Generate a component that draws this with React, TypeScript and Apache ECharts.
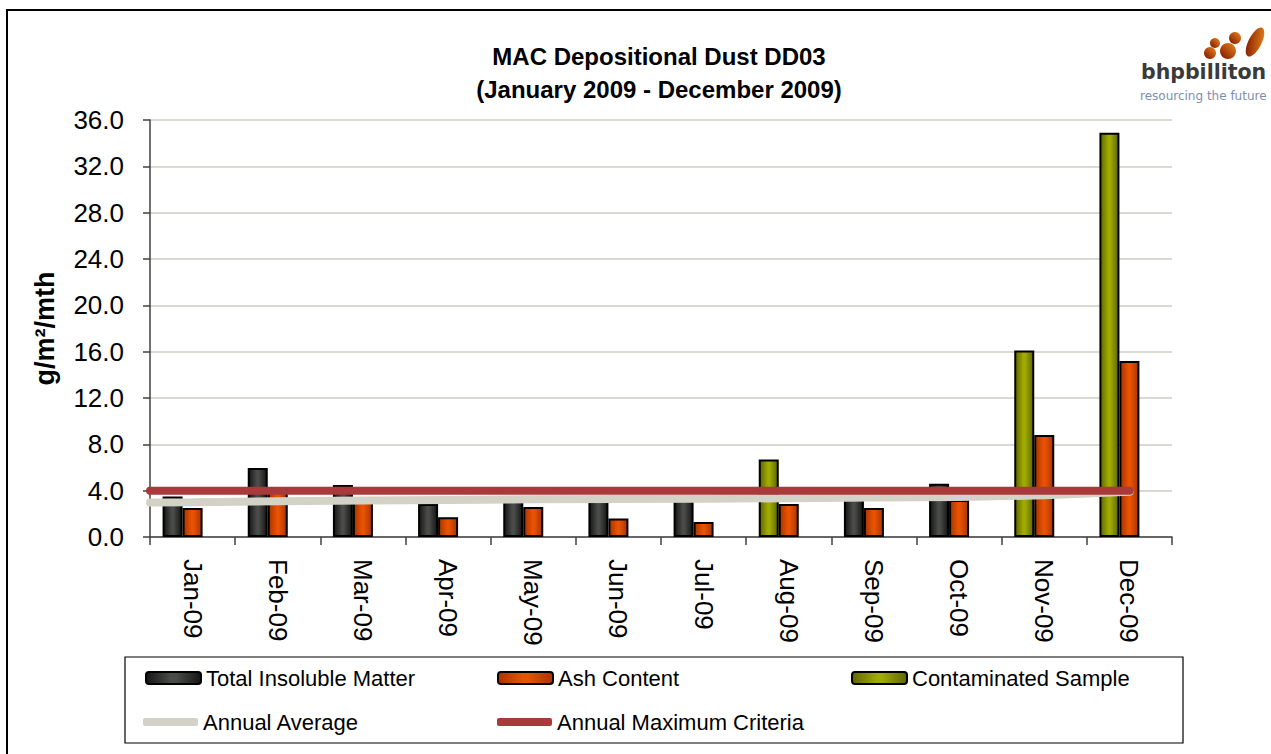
import React, { useEffect, useRef } from "react";
import * as echarts from "echarts";

const months = ["Jan-09", "Feb-09", "Mar-09", "Apr-09", "May-09", "Jun-09", "Jul-09", "Aug-09", "Sep-09", "Oct-09", "Nov-09", "Dec-09"];
const totalInsoluble = [3.5, 5.95, 4.5, 2.85, 3.4, 3.3, 3.2, null, 4.3, 4.6, null, null];
const ashContent = [2.5, 4.3, 3.1, 1.7, 2.6, 1.6, 1.3, 2.85, 2.5, 3.2, 8.8, 15.2];
const contaminated = [null, null, null, null, null, null, null, 6.7, null, null, 16.1, 34.9];
// line series positions on month scale (0 = axis start, i + 0.5 = month centre)
const avgPos = [0, 0.5, 1.5, 2.5, 3.5, 4.5, 5.5, 6.5, 7.5, 8.5, 9.5, 10.5, 11.5];
const annualAverage = [2.98, 3.0, 3.08, 3.15, 3.2, 3.25, 3.28, 3.3, 3.35, 3.4, 3.45, 3.6, 3.9];
const maxPos = [0, 11.5];
const annualMax = [4.0, 4.0];
const yTicks = { min: 0, max: 36, interval: 4 };

const FONT = "'Liberation Sans', Arial, sans-serif";

const hGrad = (edge: string, mid: string) =>
  new echarts.graphic.LinearGradient(0, 0, 1, 0, [
    { offset: 0, color: edge },
    { offset: 0.45, color: mid },
    { offset: 0.55, color: mid },
    { offset: 1, color: edge },
  ]);

export default function App() {
  const ref = useRef<HTMLDivElement>(null);
  useEffect(() => {
    if (!ref.current) return;
    const chart = echarts.init(ref.current, null, { renderer: "svg" });
    const blackFill = hGrad("#151515", "#4a4c49");
    const orangeFill = hGrad("#a83400", "#e95200");
    const greenFill = hGrad("#5f6600", "#9fab00");
    const logoGrad = () =>
      new echarts.graphic.LinearGradient(0, 1, 1, 0, [
        { offset: 0, color: "#7a1000" },
        { offset: 1, color: "#ee8a1a" },
      ]);
    const legendBase = {
      orient: "horizontal",
      padding: 0,
      itemWidth: 55,
      itemHeight: 12,
      textStyle: { fontFamily: FONT, fontSize: 22, color: "#000" },
      selectedMode: false,
    };
    const barLegendStyle = { borderColor: "#000", borderWidth: 2 };
    chart.setOption({
      animation: false,
      backgroundColor: "#fff",
      grid: { left: 150, right: 99, top: 120, bottom: 217, containLabel: false },
      legend: [
        { ...legendBase, left: 145, top: 667, data: [{ name: "Total Insoluble Matter", icon: "roundRect", itemStyle: barLegendStyle }] },
        { ...legendBase, left: 497, top: 667, data: [{ name: "Ash Content", icon: "roundRect", itemStyle: barLegendStyle }] },
        { ...legendBase, left: 851, top: 667, data: [{ name: "Contaminated Sample", icon: "roundRect", itemStyle: barLegendStyle }] },
        { ...legendBase, left: 143, top: 711, itemHeight: 8, data: [{ name: "Annual Average", icon: "roundRect", itemStyle: { color: "#d2d2c6", borderWidth: 0 } }] },
        { ...legendBase, left: 497, top: 711, itemHeight: 8, data: [{ name: "Annual Maximum Criteria", icon: "roundRect", itemStyle: { color: "#a93a3c", borderWidth: 0 } }] },
      ],
      xAxis: [
        {
          type: "category",
          data: months,
          boundaryGap: true,
          axisLine: { lineStyle: { color: "#404040", width: 1.5 } },
          axisTick: { show: true, length: 8, lineStyle: { color: "#404040", width: 1.5 } },
          axisLabel: { rotate: -90, fontFamily: FONT, fontSize: 26, color: "#000", margin: 22 },
          splitLine: { show: false },
        },
        { type: "value", min: 0, max: 12, show: false, position: "top" },
      ],
      yAxis: {
        type: "value",
        min: yTicks.min,
        max: yTicks.max,
        interval: yTicks.interval,
        name: "g/m²/mth",
        nameLocation: "middle",
        nameGap: 92,
        nameRotate: 90,
        nameTextStyle: { fontFamily: FONT, fontSize: 27, fontWeight: "bold", color: "#000" },
        axisLine: { show: true, lineStyle: { color: "#404040", width: 1.5 } },
        axisTick: { show: true, length: 7, lineStyle: { color: "#404040", width: 1.5 } },
        axisLabel: { fontFamily: FONT, fontSize: 26, color: "#000", margin: 26, formatter: (v: number) => v.toFixed(1) },
        splitLine: { show: true, lineStyle: { color: "#dadad2", width: 2 } },
      },
      series: [
        {
          name: "Total Insoluble Matter",
          type: "bar",
          stack: "main",
          data: totalInsoluble,
          barWidth: 20,
          barGap: "0%",
          itemStyle: { color: blackFill, borderColor: "#000", borderWidth: 2 },
        },
        {
          name: "Contaminated Sample",
          type: "bar",
          stack: "main",
          data: contaminated,
          barWidth: 20,
          barGap: "0%",
          itemStyle: { color: greenFill, borderColor: "#000", borderWidth: 2 },
        },
        {
          name: "Ash Content",
          type: "bar",
          data: ashContent,
          barWidth: 20,
          barGap: "0%",
          itemStyle: { color: orangeFill, borderColor: "#000", borderWidth: 2 },
        },
        {
          name: "spacer",
          type: "bar",
          data: months.map(() => null),
          barWidth: 20,
          barGap: "0%",
        },
        {
          name: "Annual Average",
          type: "line",
          xAxisIndex: 1,
          data: avgPos.map((x, i) => [x, annualAverage[i]]),
          showSymbol: false,
          symbol: "none",
          lineStyle: { color: "#d2d2c6", width: 8, cap: "round" },
          itemStyle: { color: "#d2d2c6" },
          z: 3,
        },
        {
          name: "Annual Maximum Criteria",
          type: "line",
          xAxisIndex: 1,
          data: maxPos.map((x, i) => [x, annualMax[i]]),
          showSymbol: false,
          symbol: "none",
          lineStyle: { color: "#a93a3c", width: 8, cap: "round" },
          itemStyle: { color: "#a93a3c" },
          z: 4,
        },
      ],
      graphic: [
        { type: "rect", shape: { x: 7, y: 10, width: 1400, height: 900 }, style: { fill: "none", stroke: "#000", lineWidth: 2 }, silent: true },
        { type: "rect", shape: { x: 125, y: 657, width: 1058, height: 86 }, style: { fill: "none", stroke: "#000", lineWidth: 1.2 }, silent: true },
        { type: "text", x: 659, y: 56, style: { text: "MAC Depositional Dust DD03", fontFamily: FONT, fontSize: 24, fontWeight: "bold", fill: "#000", textAlign: "center", textVerticalAlign: "middle" } },
        { type: "text", x: 659, y: 89, style: { text: "(January 2009 - December 2009)", fontFamily: FONT, fontSize: 24, fontWeight: "bold", fill: "#000", textAlign: "center", textVerticalAlign: "middle" } },
        { type: "circle", shape: { cx: 1215, cy: 43, r: 5 }, style: { fill: logoGrad() } },
        { type: "circle", shape: { cx: 1210, cy: 53, r: 6 }, style: { fill: logoGrad() } },
        { type: "circle", shape: { cx: 1235, cy: 38, r: 6 }, style: { fill: logoGrad() } },
        { type: "circle", shape: { cx: 1228, cy: 51, r: 8 }, style: { fill: logoGrad() } },
        { type: "ellipse", x: 1255, y: 42, rotation: -0.47, shape: { cx: 0, cy: 0, rx: 6.5, ry: 16 }, style: { fill: logoGrad() } },
        { type: "text", x: 1141, y: 82, style: { text: "bhpbilliton", fontFamily: "'DejaVu Sans', sans-serif", fontSize: 20.5, fontWeight: "bold", fill: "#3a3a3a", textVerticalAlign: "bottom" } },
        { type: "text", x: 1140, y: 96, style: { text: "resourcing the future", fontFamily: "'DejaVu Sans', sans-serif", fontSize: 12, fill: "#7e8fae", textVerticalAlign: "middle" } },
      ],
    });
    return () => chart.dispose();
  }, []);
  return <div ref={ref} style={{ position: "fixed", left: 0, top: 0, width: 1271, height: 754 }} />;
}
